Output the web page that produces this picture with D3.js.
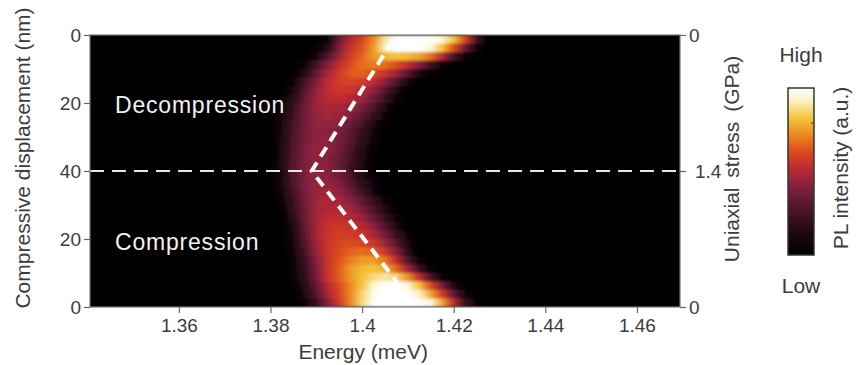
<!DOCTYPE html>
<html>
<head>
<meta charset="utf-8">
<script src="https://cdn.jsdelivr.net/npm/d3@7"></script>
<style>
  body { margin: 0; background: #fff; }
  svg { display: block; font-family: "Liberation Sans", Arial, sans-serif; }
</style>
</head>
<body>
<svg id="chart" width="862" height="365"></svg>
<script>
// energy columns (meV) of the PL map
var energyCols = [1.380, 1.3825, 1.385, 1.3875, 1.390, 1.3925, 1.395, 1.3975, 1.400, 1.4025,
                  1.405, 1.4075, 1.410, 1.4125, 1.415, 1.4175, 1.420, 1.4225, 1.425, 1.4275];

// normalised PL intensity, one row per displacement step, top (decompression, 0 nm) to bottom (compression, 0 nm)
var intensity = [
  [0,0,0,0,0,.08,.35,.5,.6,.72,.9,1,1,1,1,.95,.82,.6,.25,0],
  [0,0,0,0,.03,.15,.4,.55,.63,.75,.92,1,1,1,.95,.82,.62,.35,.08,0],
  [0,0,0,0,.1,.28,.45,.58,.66,.75,.8,.82,.8,.76,.68,.5,.25,.06,0,0],
  [0,0,0,.08,.25,.4,.53,.62,.68,.7,.68,.62,.52,.4,.22,.06,0,0,0,0],
  [0,0,.03,.15,.33,.47,.57,.64,.66,.62,.55,.45,.3,.12,0,0,0,0,0,0],
  [0,0,.08,.25,.4,.52,.58,.6,.58,.52,.42,.28,.1,0,0,0,0,0,0,0],
  [0,0,.12,.3,.44,.52,.56,.55,.5,.42,.3,.14,0,0,0,0,0,0,0,0],
  [0,.03,.17,.33,.45,.51,.52,.5,.45,.35,.22,.07,0,0,0,0,0,0,0,0],
  [0,.06,.22,.36,.45,.48,.48,.45,.38,.28,.13,0,0,0,0,0,0,0,0,0],
  [0,.09,.24,.37,.44,.46,.45,.4,.32,.2,.06,0,0,0,0,0,0,0,0,0],
  [0,.11,.26,.37,.43,.44,.41,.34,.25,.13,0,0,0,0,0,0,0,0,0,0],
  [0,.12,.27,.37,.42,.42,.38,.31,.21,.09,0,0,0,0,0,0,0,0,0,0],
  [0,.13,.28,.38,.43,.43,.38,.3,.18,.06,0,0,0,0,0,0,0,0,0,0],
  [0,.13,.29,.39,.44,.43,.37,.27,.15,.04,0,0,0,0,0,0,0,0,0,0],
  [0,.13,.29,.39,.43,.41,.35,.25,.13,.02,0,0,0,0,0,0,0,0,0,0],
  [.02,.14,.3,.4,.43,.41,.34,.23,.11,0,0,0,0,0,0,0,0,0,0,0],
  [0,.12,.29,.39,.43,.42,.36,.26,.14,.03,0,0,0,0,0,0,0,0,0,0],
  [0,.11,.28,.39,.44,.44,.4,.3,.18,.06,0,0,0,0,0,0,0,0,0,0],
  [0,.09,.26,.38,.45,.47,.44,.36,.24,.1,0,0,0,0,0,0,0,0,0,0],
  [0,.06,.23,.37,.46,.49,.47,.42,.32,.2,.06,0,0,0,0,0,0,0,0,0],
  [0,.03,.21,.36,.46,.5,.5,.46,.38,.27,.13,.02,0,0,0,0,0,0,0,0],
  [0,0,.18,.35,.47,.52,.53,.5,.44,.35,.21,.07,0,0,0,0,0,0,0,0],
  [0,0,.15,.33,.47,.54,.56,.55,.5,.42,.29,.13,0,0,0,0,0,0,0,0],
  [0,0,.12,.31,.47,.55,.58,.58,.55,.48,.37,.21,.06,0,0,0,0,0,0,0],
  [0,0,.1,.29,.46,.55,.6,.62,.6,.55,.45,.31,.12,0,0,0,0,0,0,0],
  [0,0,.08,.26,.44,.55,.62,.66,.68,.65,.56,.4,.17,0,0,0,0,0,0,0],
  [0,0,.07,.23,.41,.55,.63,.7,.75,.75,.69,.52,.27,.06,0,0,0,0,0,0],
  [0,0,.06,.21,.39,.55,.65,.75,.8,.82,.78,.66,.46,.22,.04,0,0,0,0,0],
  [0,0,.05,.19,.37,.55,.65,.75,.82,.87,.9,.86,.73,.52,.27,.07,0,0,0,0],
  [0,0,.02,.16,.33,.5,.62,.72,.83,.95,1,1,.95,.82,.62,.38,.14,0,0,0],
  [0,0,0,.13,.3,.48,.6,.72,.86,.98,1,1,1,.93,.77,.57,.32,.1,0,0],
  [0,0,0,.07,.22,.42,.57,.72,.87,1,1,1,1,1,.95,.77,.52,.23,.05,0]
];

// position along the scan: 0 = start of decompression (top), 40 = max, 80 = end of compression (bottom)
var leftTickPos = [0, 20, 40, 60, 80];
var leftTickLabels = ["0", "20", "40", "20", "0"];
var rightTickPos = [0, 40, 80];
var rightTickLabels = ["0", "1.4", "0"];
var energyTicks = [1.36, 1.38, 1.40, 1.42, 1.44, 1.46];

// dashed guide following the peak
var guideE = [1.4067, 1.3890, 1.4078];
var guidePos = [1.5, 40, 73];

var cmapStops = [0, 0.15, 0.3, 0.42, 0.52, 0.62, 0.72, 0.82, 0.92, 1];
var cmapColors = ["#000000", "#220914", "#55172e", "#8a2140", "#c02a30", "#dc4a1f", "#eb8a1e", "#f2c43a", "#faf0c0", "#ffffff"];

var svg = d3.select("#chart"),
    margin = {top: 35, right: 182, bottom: 58, left: 90},
    width = +svg.attr("width") - margin.left - margin.right,
    height = +svg.attr("height") - margin.top - margin.bottom;

var x = d3.scaleLinear().domain([1.3406, 1.4694]).range([0, width]),
    yPos = d3.scaleLinear().domain([0, 80]).range([0, height]),
    yRow = d3.scaleBand().domain(d3.range(intensity.length)).range([0, height]),
    color = d3.scaleLinear().domain(cmapStops).range(cmapColors).clamp(true);

var defs = svg.append("defs");
var g = svg.append("g").attr("transform", "translate(" + margin.left + "," + margin.top + ")");

defs.append("clipPath").attr("id", "plotclip")
    .append("rect").attr("width", width).attr("height", height);

var soft = defs.append("filter").attr("id", "soft")
    .attr("x", 0).attr("y", 0).attr("width", 1).attr("height", 1);
soft.append("feGaussianBlur").attr("stdDeviation", "1 1.6").attr("edgeMode", "duplicate");

// one horizontal gradient per row
var x1 = x(energyCols[0]), x2 = x(energyCols[energyCols.length - 1]);
intensity.forEach(function(row, i) {
    var grad = defs.append("linearGradient")
        .attr("id", "row" + i)
        .attr("gradientUnits", "userSpaceOnUse")
        .attr("x1", x1).attr("x2", x2).attr("y1", 0).attr("y2", 0);
    grad.selectAll("stop")
        .data(row)
        .enter().append("stop")
        .attr("offset", function(d, j) { return (x(energyCols[j]) - x1) / (x2 - x1); })
        .attr("stop-color", function(d) { return color(d); });
});

g.append("rect").attr("width", width).attr("height", height).attr("fill", "#000");

var heat = g.append("g").attr("clip-path", "url(#plotclip)")
    .append("g").attr("filter", "url(#soft)");

heat.selectAll("rect.row")
    .data(intensity)
    .enter().append("rect")
    .attr("class", "row")
    .attr("x", 0)
    .attr("y", function(d, i) { return yRow(i); })
    .attr("width", width)
    .attr("height", yRow.bandwidth() + 0.5)
    .attr("fill", function(d, i) { return "url(#row" + i + ")"; });

// horizontal dashed line at max displacement
g.append("line")
    .attr("x1", 0).attr("x2", width)
    .attr("y1", yPos(40)).attr("y2", yPos(40))
    .attr("stroke", "#e6e6e6")
    .attr("stroke-width", 1.8)
    .attr("stroke-dasharray", "14,8");

// peak guide
var guide = d3.line()
    .x(function(d, i) { return x(guideE[i]); })
    .y(function(d) { return yPos(d); });

g.append("path")
    .datum(guidePos)
    .attr("d", guide)
    .attr("fill", "none")
    .attr("stroke", "#fff")
    .attr("stroke-width", 4)
    .attr("stroke-dasharray", "11,7");

g.append("text").attr("x", 25).attr("y", 78)
    .attr("fill", "#f2f2f2").attr("font-size", 23).attr("letter-spacing", 0.8)
    .text("Decompression");
g.append("text").attr("x", 25).attr("y", 215)
    .attr("fill", "#f2f2f2").attr("font-size", 23).attr("letter-spacing", 0.8)
    .text("Compression");

// frame
g.append("rect").attr("width", width).attr("height", height)
    .attr("fill", "none").attr("stroke", "#777").attr("stroke-width", 1.2);

var axisColor = "#666", textColor = "#3c3c3c";

function styleAxis(sel) {
    sel.select(".domain").remove();
    sel.selectAll(".tick line").attr("stroke", axisColor).attr("stroke-width", 1.2);
    sel.selectAll(".tick text").attr("fill", textColor).attr("font-size", 19);
}

g.append("g")
    .attr("transform", "translate(0," + height + ")")
    .call(d3.axisBottom(x).tickValues(energyTicks).tickSize(6).tickPadding(6)
        .tickFormat(function(d) { return String(+d.toFixed(2)); }))
    .call(styleAxis);

g.append("g")
    .call(d3.axisLeft(yPos).tickValues(leftTickPos).tickSize(6).tickPadding(3)
        .tickFormat(function(d, i) { return leftTickLabels[i]; }))
    .call(styleAxis);

var right = g.append("g")
    .attr("transform", "translate(" + width + ",0)")
    .call(d3.axisRight(yPos).tickValues(rightTickPos).tickSize(6).tickPadding(3)
        .tickFormat(function(d, i) { return rightTickLabels[i]; }))
    .call(styleAxis);
right.selectAll(".tick text").attr("dx", function(d) { return d === 40 ? 6 : 0; });

// axis titles
svg.append("text")
    .attr("x", margin.left + width * 0.463).attr("y", 359)
    .attr("text-anchor", "middle").attr("fill", textColor).attr("font-size", 21)
    .text("Energy (meV)");

svg.append("text")
    .attr("transform", "translate(30,158) rotate(-90)")
    .attr("text-anchor", "middle").attr("fill", textColor).attr("font-size", 21)
    .text("Compressive displacement (nm)");

svg.append("text")
    .attr("transform", "translate(739,159) rotate(-90)")
    .attr("text-anchor", "middle").attr("fill", textColor).attr("font-size", 21)
    .attr("word-spacing", 4)
    .text("Uniaxial stress (GPa)");

// colour bar
var cb = {x: 788, y: 88, w: 26, h: 167};
var cbGrad = defs.append("linearGradient")
    .attr("id", "cbar").attr("x1", 0).attr("x2", 0).attr("y1", 1).attr("y2", 0);
cbGrad.selectAll("stop")
    .data(cmapStops)
    .enter().append("stop")
    .attr("offset", function(d) { return d; })
    .attr("stop-color", function(d) { return color(d); });

svg.append("rect")
    .attr("x", cb.x).attr("y", cb.y).attr("width", cb.w).attr("height", cb.h)
    .attr("fill", "url(#cbar)").attr("stroke", "#333").attr("stroke-width", 1.5);

var cbScale = d3.scaleLinear().domain([0, 1]).range([cb.y + cb.h, cb.y]);
svg.selectAll("line.cbtick")
    .data([0.4, 0.79])
    .enter().append("line")
    .attr("class", "cbtick")
    .attr("x1", cb.x + cb.w - 3).attr("x2", cb.x + cb.w)
    .attr("y1", function(d) { return cbScale(d); })
    .attr("y2", function(d) { return cbScale(d); })
    .attr("stroke", "#333");

svg.append("text").attr("x", cb.x + cb.w / 2).attr("y", 62)
    .attr("text-anchor", "middle").attr("fill", textColor).attr("font-size", 21).text("High");
svg.append("text").attr("x", cb.x + cb.w / 2).attr("y", 293)
    .attr("text-anchor", "middle").attr("fill", textColor).attr("font-size", 21).text("Low");

svg.append("text")
    .attr("transform", "translate(848,168) rotate(-90)")
    .attr("text-anchor", "middle").attr("fill", textColor).attr("font-size", 21)
    .text("PL intensity (a.u.)");
</script>
</body>
</html>
